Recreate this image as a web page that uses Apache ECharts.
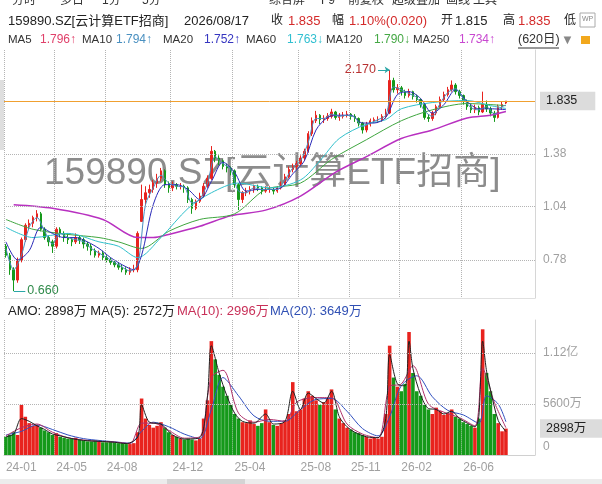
<!DOCTYPE html>
<html><head><meta charset="utf-8">
<script src="https://cdn.jsdelivr.net/npm/echarts@6/dist/echarts.min.js"></script>
<style>html,body{margin:0;padding:0;background:#fff}#c{width:602px;height:484px}</style>
</head><body><div id="c"></div>
<script>
// ---------- DATA (weekly) ----------
const categories = [
'2024-01-26','2024-02-02','2024-02-08','2024-02-23','2024-03-01',
'2024-03-08','2024-03-15','2024-03-22','2024-03-29','2024-04-03',
'2024-04-12','2024-04-19','2024-04-26','2024-05-03','2024-05-10',
'2024-05-17','2024-05-24','2024-05-31','2024-06-07','2024-06-14',
'2024-06-21','2024-06-28','2024-07-05','2024-07-12','2024-07-19',
'2024-07-26','2024-08-02','2024-08-09','2024-08-16','2024-08-23',
'2024-08-30','2024-09-06','2024-09-13','2024-09-20','2024-09-27',
'2024-10-11','2024-10-18','2024-10-25','2024-11-01','2024-11-08',
'2024-11-15','2024-11-22','2024-11-29','2024-12-06','2024-12-13',
'2024-12-20','2024-12-27','2025-01-03','2025-01-10','2025-01-17',
'2025-01-24','2025-02-07','2025-02-14','2025-02-21','2025-02-28',
'2025-03-07','2025-03-14','2025-03-21','2025-03-28','2025-04-03',
'2025-04-11','2025-04-18','2025-04-25','2025-04-30','2025-05-09',
'2025-05-16','2025-05-23','2025-05-30','2025-06-06','2025-06-13',
'2025-06-20','2025-06-27','2025-07-04','2025-07-11','2025-07-18',
'2025-07-25','2025-08-01','2025-08-08','2025-08-15','2025-08-22',
'2025-08-29','2025-09-05','2025-09-12','2025-09-19','2025-09-26',
'2025-10-10','2025-10-17','2025-10-24','2025-10-31','2025-11-07',
'2025-11-14','2025-11-21','2025-11-28','2025-12-05','2025-12-12',
'2025-12-19','2025-12-26','2025-12-31','2026-01-09','2026-01-16',
'2026-01-23','2026-01-30','2026-02-06','2026-02-13','2026-02-27',
'2026-03-06','2026-03-13','2026-03-20','2026-03-27','2026-04-03',
'2026-04-10','2026-04-17','2026-04-24','2026-04-30','2026-05-08',
'2026-05-15','2026-05-22','2026-05-29','2026-06-05','2026-06-12',
'2026-06-19','2026-06-26','2026-07-03','2026-07-10','2026-07-17',
'2026-07-24','2026-07-31','2026-08-07','2026-08-14','2026-08-17'
];
// [open, close, low, high]
const candles = [
[0.84,0.80,0.79,0.85],[0.80,0.74,0.72,0.81],[0.74,0.70,0.66,0.75],[0.70,0.78,0.69,0.79],[0.78,0.87,0.77,0.88],
[0.87,0.94,0.86,0.95],[0.94,0.95,0.92,0.97],[0.95,0.98,0.93,0.99],[0.98,1.00,0.96,1.02],[1.00,0.92,0.91,1.01],
[0.92,0.88,0.87,0.93],[0.88,0.86,0.84,0.89],[0.86,0.84,0.81,0.87],[0.84,0.92,0.83,0.93],[0.92,0.90,0.88,0.93],
[0.90,0.88,0.86,0.91],[0.88,0.87,0.85,0.90],[0.87,0.86,0.84,0.88],[0.86,0.88,0.85,0.90],[0.88,0.87,0.85,0.89],
[0.87,0.85,0.83,0.88],[0.85,0.84,0.82,0.86],[0.84,0.82,0.80,0.85],[0.82,0.80,0.79,0.83],[0.80,0.81,0.79,0.82],
[0.81,0.79,0.78,0.82],[0.79,0.78,0.77,0.80],[0.78,0.77,0.76,0.79],[0.77,0.76,0.75,0.78],[0.76,0.75,0.74,0.77],
[0.75,0.74,0.73,0.76],[0.74,0.73,0.72,0.75],[0.73,0.74,0.72,0.75],[0.74,0.74,0.73,0.76],[0.74,0.90,0.73,0.91],
[0.96,1.08,1.02,1.17],[1.08,1.12,1.05,1.16],[1.12,1.14,1.09,1.17],[1.14,1.18,1.12,1.20],[1.18,1.21,1.15,1.24],
[1.21,1.26,1.19,1.28],[1.26,1.17,1.15,1.27],[1.17,1.15,1.12,1.19],[1.15,1.17,1.13,1.19],[1.17,1.16,1.14,1.18],
[1.16,1.16,1.14,1.18],[1.16,1.15,1.12,1.17],[1.15,1.08,1.06,1.16],[1.08,1.03,1.00,1.09],[1.03,1.07,1.02,1.08],
[1.07,1.10,1.06,1.12],[1.10,1.16,1.09,1.18],[1.16,1.21,1.15,1.23],[1.21,1.40,1.20,1.44],[1.40,1.35,1.32,1.41],
[1.35,1.33,1.30,1.37],[1.33,1.29,1.27,1.34],[1.29,1.28,1.25,1.31],[1.28,1.26,1.23,1.29],[1.26,1.17,1.15,1.27],
[1.17,1.08,1.02,1.18],[1.08,1.12,1.06,1.13],[1.12,1.13,1.10,1.15],[1.13,1.14,1.11,1.16],[1.14,1.16,1.12,1.17],
[1.16,1.15,1.13,1.17],[1.15,1.13,1.11,1.16],[1.13,1.14,1.12,1.16],[1.14,1.14,1.12,1.16],[1.14,1.13,1.11,1.15],
[1.13,1.15,1.12,1.16],[1.15,1.17,1.14,1.19],[1.17,1.22,1.16,1.24],[1.22,1.27,1.21,1.29],[1.27,1.29,1.25,1.31],
[1.29,1.31,1.27,1.33],[1.31,1.35,1.30,1.37],[1.35,1.40,1.33,1.42],[1.40,1.54,1.39,1.56],[1.54,1.65,1.52,1.68],
[1.65,1.70,1.63,1.74],[1.70,1.66,1.62,1.71],[1.66,1.67,1.63,1.70],[1.67,1.69,1.65,1.72],[1.69,1.73,1.67,1.76],
[1.73,1.68,1.66,1.74],[1.68,1.69,1.65,1.72],[1.69,1.70,1.67,1.73],[1.70,1.71,1.68,1.74],[1.71,1.69,1.66,1.72],
[1.69,1.67,1.64,1.71],[1.67,1.63,1.60,1.68],[1.63,1.57,1.54,1.64],[1.57,1.62,1.55,1.64],[1.62,1.65,1.60,1.67],
[1.65,1.66,1.63,1.68],[1.66,1.66,1.63,1.69],[1.66,1.69,1.64,1.71],[1.69,1.72,1.67,1.76],[1.72,2.05,1.71,2.17],
[2.05,1.95,1.92,2.08],[1.95,1.97,1.91,2.01],[1.97,1.93,1.89,1.99],[1.93,1.89,1.86,1.95],[1.89,1.93,1.87,1.96],
[1.93,1.88,1.85,1.94],[1.88,1.85,1.82,1.90],[1.85,1.80,1.77,1.86],[1.80,1.68,1.66,1.81],[1.68,1.67,1.64,1.71],
[1.67,1.72,1.65,1.74],[1.72,1.78,1.70,1.80],[1.78,1.85,1.77,1.88],[1.85,1.90,1.83,1.93],[1.90,1.95,1.88,1.98],
[1.95,2.00,1.93,2.05],[2.00,1.93,1.90,2.02],[1.93,1.89,1.86,1.95],[1.89,1.83,1.80,1.90],[1.83,1.78,1.75,1.85],
[1.78,1.75,1.72,1.80],[1.75,1.77,1.72,1.80],[1.77,1.73,1.70,1.79],[1.73,1.80,1.72,1.93],[1.80,1.76,1.73,1.84],
[1.76,1.72,1.69,1.78],[1.72,1.68,1.64,1.74],[1.68,1.78,1.67,1.80],[1.78,1.80,1.75,1.83],[1.815,1.835,1.805,1.835]
];
// turnover (万)
const amount = [
2000,2200,2500,2200,5500, 4200,3500,3200,3300,3000, 2700,2500,2200,2400,2000,
1900,1800,1800,1900,1700, 1600,1500,1500,1600,1500, 1400,1400,1500,1400,1300,
1300,1200,1200,1300,2500, 6200,4000,3300,3000,3200, 3600,3000,2500,2200,2000,
1800,1700,1800,1700,1600, 1800,4000,6000,12500,10500, 8800,7500,6500,5500,4500,
4000,3600,3500,3800,3400, 3200,3500,5000,3600,3300, 3200,3500,3800,4500,8000,
4800,5000,6200,7000,6500, 6000,5500,5800,6200,7200, 5000,4000,3500,3000,2800,
2500,2400,2200,2000,1800, 1900,1800,2000,4500,12000, 8500,7500,7000,7800,13500,
9000,7000,6500,5500,5000, 4500,5200,4800,4400,4600, 5000,4200,4000,3600,3400,
3200,3000,4000,13800,9000, 7000,4500,3500,2600,2898
];
// moving averages read at sparse weeks: [weekIndex, value]
const ma10 = [[0,0.83],[2,0.74],[4,0.80],[6,0.93],[8,0.98],[10,0.91],[12,0.85],[14,0.90],[16,0.88],[18,0.87],[20,0.86],[22,0.83],[24,0.81],[26,0.79],[28,0.77],[30,0.75],[32,0.735],[34,0.76],[36,1.05],[38,1.15],[40,1.23],[42,1.18],[44,1.16],[46,1.155],[48,1.06],[50,1.08],[52,1.18],[54,1.36],[56,1.31],[58,1.27],[60,1.13],[62,1.12],[64,1.15],[66,1.14],[68,1.14],[70,1.14],[72,1.20],[74,1.28],[76,1.33],[78,1.47],[80,1.67],[82,1.67],[84,1.71],[86,1.69],[88,1.70],[90,1.68],[92,1.60],[94,1.63],[96,1.66],[98,1.70],[100,1.98],[102,1.95],[104,1.91],[106,1.87],[108,1.74],[110,1.69],[112,1.81],[114,1.92],[116,1.96],[118,1.86],[120,1.77],[122,1.75],[124,1.78],[126,1.71],[128,1.78],[129,1.794]];
const ma20 = [[0,0.86],[3,0.78],[6,0.82],[9,0.93],[12,0.90],[15,0.88],[18,0.88],[21,0.86],[24,0.83],[27,0.79],[30,0.76],[33,0.74],[35,0.80],[38,1.05],[41,1.17],[44,1.17],[47,1.14],[50,1.08],[53,1.19],[56,1.32],[59,1.25],[62,1.13],[65,1.14],[68,1.14],[71,1.15],[74,1.24],[77,1.33],[80,1.57],[83,1.68],[86,1.70],[89,1.70],[92,1.63],[95,1.63],[98,1.68],[101,1.90],[104,1.93],[107,1.86],[110,1.72],[113,1.80],[116,1.95],[119,1.83],[122,1.76],[125,1.76],[129,1.752]];
const ma60 = [[0,0.93],[7,0.88],[16,0.90],[24,0.86],[29,0.84],[34,0.79],[40,0.88],[47,1.03],[53,1.12],[60,1.18],[68,1.15],[76,1.20],[81,1.33],[86,1.50],[93,1.62],[98,1.66],[102,1.76],[110,1.82],[119,1.84],[125,1.79],[129,1.763]];
const ma120 = [[0,0.97],[7,0.92],[16,0.895],[24,0.88],[29,0.86],[35,0.83],[42,0.91],[50,0.97],[59,1.00],[67,1.14],[76,1.18],[84,1.34],[93,1.49],[102,1.65],[110,1.75],[119,1.81],[129,1.79]];
const ma250 = [[2,1.05],[12,1.03],[25,0.97],[34,0.88],[38,0.88],[42,0.895],[50,0.935],[58,0.99],[67,1.02],[76,1.10],[85,1.25],[93,1.36],[102,1.50],[110,1.57],[119,1.675],[125,1.70],[129,1.734]];
const volMa5 = [[0,2000],[2,2300],[4,4000],[6,3700],[8,3200],[10,2800],[12,2300],[14,2100],[17,1800],[20,1600],[24,1500],[28,1400],[31,1250],[34,2000],[35,5500],[37,3600],[40,3400],[43,2200],[46,1750],[50,1900],[52,6500],[53,12000],[55,9000],[57,6500],[59,4600],[61,3700],[64,3500],[67,4500],[69,3400],[72,3700],[74,7000],[76,5000],[78,6800],[80,6200],[82,5700],[84,7000],[86,4200],[88,3100],[90,2500],[93,2000],[96,1900],[98,4000],[99,11000],[101,7800],[103,7600],[104,12500],[105,9500],[107,6600],[109,5100],[111,5000],[113,4500],[115,4800],[117,4000],[119,3500],[121,3100],[122,4200],[123,12500],[124,9200],[125,7200],[127,3800],[129,2572]];
const volMa10 = [[0,2100],[4,3000],[8,3400],[12,2500],[16,1900],[20,1650],[24,1500],[28,1420],[32,1260],[35,3500],[38,3500],[42,2700],[46,1850],[50,2000],[53,8500],[56,9300],[60,4600],[64,3600],[68,3900],[72,3700],[75,5800],[80,6300],[84,6300],[88,3400],[92,2300],[96,1900],[99,7500],[102,7800],[105,9800],[109,5600],[113,4700],[117,4100],[121,3200],[123,9500],[126,5800],[129,2996]];
const volMa20 = [[0,2200],[4,2600],[8,3300],[12,2800],[16,2200],[20,1800],[24,1600],[28,1450],[32,1300],[35,2600],[38,3600],[42,3100],[46,2300],[50,1800],[53,5000],[56,8500],[60,6500],[64,4300],[68,3700],[72,3700],[76,5000],[80,6100],[84,6200],[88,4800],[92,2900],[96,2100],[99,4200],[102,7600],[106,8700],[110,6400],[114,4900],[118,4400],[122,3500],[124,6500],[127,5600],[129,3649]];
const priceTicks = ['0.78','1.04','1.38'];
const lastPrice = 1.835;
const lastAmount = 2898;
const highMark = [99, 2.170];
const lowMark = [2, 0.660];
const xTickLabels = ['24-01','24-05','24-08','24-12','25-04','25-08','25-11','26-02','26-06'];
const topRowTexts = ['分时','多日','1分','5分','综合屏','F9','前复权','超级叠加','画线','工具'];
const infoTexts = ['159890.SZ[云计算ETF招商]','2026/08/17','收','1.835','幅','1.10%(0.020)','开','1.815','高','1.835','低'];
const maNames = ['MA5','MA10','MA20','MA60','MA120','MA250'];
const maValues = ['1.796↑','1.794↑','1.752↑','1.763↓','1.790↓','1.734↑'];
const volLegend = ['AMO: 2898万 MA(5): 2572万','MA(10): 2996万','MA(20): 3649万'];
const watermark = '159890.SZ[云计算ETF招商]';

// ---------- LAYOUT / STYLE ----------
const FONT = '"Liberation Sans","Noto Sans CJK SC",sans-serif';
const UP = '#e8231e', DOWN = '#15991a';
const GRIDC = '#b4b4b4';
const xData = categories.concat(new Array(7).fill(''));
const ym = v => v ? v.slice(2,7) : '';
function isTick(i){
  const v = xData[i]; if(!v) return false;
  const m = ym(v); if(xTickLabels.indexOf(m) < 0) return false;
  return i === 0 || ym(xData[i-1]) !== m;
}
const chart = echarts.init(document.getElementById('c'), null, {renderer:'canvas', width:602, height:484});

const topRowX = [12,60,102,142,269,321,348,392,446,473];
const infoX = [8,184,271,288,332,349,441,455,503,518,564];
const infoS = [13,13,12,13,12,13,12,13,12,13,12];
const infoC = ['#222','#222','#222','#d42a2a','#222','#d42a2a','#222','#222','#222','#d42a2a','#222'];
const maNameX = [8,82,163,246,326,413];
const maValX = [40,116,204,287,374,459];
const maColors = ['#e0406a','#4a90c0','#3535c0','#30bfd0','#45a845','#c848d0'];
const volLegX = [8,177,270];
const volLegC = ['#222','#c83058','#3050b4'];

function T(x,y,text,fill,size,extra){
  return Object.assign({type:'text', x:x, y:y, z:100, silent:true,
    style:{text:text, fill:fill, font:(size||13)+'px '+FONT, verticalAlign:'middle', align:'left'}}, extra||{});
}
const graphics = [];
topRowTexts.forEach((t,i)=>graphics.push(T(topRowX[i],1,t,'#333',12)));
infoTexts.forEach((t,i)=>graphics.push(T(infoX[i],21,t,infoC[i],infoS[i])));
maNames.forEach((t,i)=>{graphics.push(T(maNameX[i],40,t,'#333',11.5));graphics.push(T(maValX[i],40,maValues[i],maColors[i],12));});
graphics.push(T(518,40,'(620日)','#333',12.5));
graphics.push({type:'line', z:100, silent:true, shape:{x1:518,y1:48,x2:559,y2:48}, style:{stroke:'#333',lineWidth:1}});
graphics.push(T(561,40,'▼','#888',13));
graphics.push({type:'rect', z:100, silent:true, shape:{x:581,y:36,width:9,height:8}, style:{fill:'#f2a81d'}});
graphics.push({type:'rect', z:100, silent:true, shape:{x:580,y:13,width:15,height:14}, style:{fill:'#fff',stroke:'#aaa',lineWidth:1}});
graphics.push(T(582,19,'WP','#888',7));
volLegend.forEach((t,i)=>graphics.push(T(volLegX[i],311,t,volLegC[i],13)));
graphics.push({type:'rect', z:0, silent:true, shape:{x:0,y:80,width:4,height:70}, style:{fill:'#dedede'}});
graphics.push({type:'rect', z:0, silent:true, shape:{x:0,y:479,width:602,height:5}, style:{fill:'#ececec'}});
graphics.push({type:'rect', z:0, silent:true, shape:{x:167,y:479,width:78,height:5}, style:{fill:'#d4d4d4'}});
graphics.push({type:'text', x:44, y:174, z:0, silent:true,
  style:{text:watermark, fill:'rgba(120,120,120,0.85)', font:'37px '+FONT, verticalAlign:'middle'}});

const boxLabel = (txt)=>({show:true, position:'end', formatter:txt, backgroundColor:'#dcdcdc', color:'#222',
  padding:[3,18,3,6], fontSize:12.5, fontFamily:FONT, distance:5});
const lineOf = (data, color, w, xi, yi)=>({type:'line', data:data, xAxisIndex:xi, yAxisIndex:yi, smooth:0.3,
  showSymbol:false, symbol:'none', silent:true, lineStyle:{color:color, width:w}, z:3});

const option = {
  animation:false,
  backgroundColor:'#fff',
  textStyle:{fontFamily:FONT},
  grid:[
    {left:4, right:67, top:50, bottom:186, outerBoundsMode:'none'},
    {left:4, right:67, top:320, bottom:29, outerBoundsMode:'none'}
  ],
  xAxis:[
    {type:'category', gridIndex:0, data:xData, boundaryGap:true,
     axisLabel:{show:false}, axisTick:{show:false},
     axisLine:{show:true, lineStyle:{color:'#e0e0e0'}},
     splitLine:{show:true, interval:(i)=>isTick(i), lineStyle:{type:'dotted', color:GRIDC}}},
    {type:'category', gridIndex:1, data:xData, boundaryGap:true,
     axisLabel:{show:true, interval:(i)=>isTick(i), formatter:ym, align:'left', color:'#a0a0a0', fontSize:12, margin:7},
     axisTick:{show:false},
     axisLine:{show:true, lineStyle:{color:'#d0d0d0'}},
     splitLine:{show:true, interval:(i)=>isTick(i), lineStyle:{type:'dotted', color:GRIDC}}}
  ],
  yAxis:[
    {type:'log', logBase:10, gridIndex:0, position:'right', min:0.6356, max:2.415,
     axisLabel:{show:false}, axisTick:{show:false}, splitLine:{show:false},
     axisLine:{show:true, lineStyle:{color:'#d6d6d6'}}},
    {type:'value', gridIndex:1, position:'right', min:0, max:14820, interval:5600,
     axisLabel:{show:true, showMaxLabel:false, color:'#a0a0a0', fontSize:12, margin:8, align:'left',
       formatter:(v)=> v===0 ? '{z|0}' : (v>=10000 ? (v/10000)+'亿' : v+'万'),
       rich:{z:{padding:[0,0,17,0], color:'#a0a0a0', fontSize:12}}},
     axisTick:{show:false}, splitLine:{show:false},
     axisLine:{show:true, lineStyle:{color:'#d6d6d6'}}}
  ],
  graphic: graphics,
  series:[
    {type:'candlestick', xAxisIndex:0, yAxisIndex:0, data:candles, barMaxWidth:3, z:2,
     itemStyle:{color:UP, color0:DOWN, borderColor:UP, borderColor0:DOWN, borderWidth:1},
     markLine:{silent:true, symbol:['none','none'], animation:false, precision:3,
       data:[].concat(
         priceTicks.map(t=>({yAxis:parseFloat(t),
           lineStyle:{type:'dotted', color:GRIDC, width:1},
           label:{show:true, position:'end', formatter:t, color:'#a0a0a0', fontSize:12, distance:8}})),
         [{yAxis:lastPrice, lineStyle:{type:'solid', color:'#f0a030', width:1}, label:boxLabel(lastPrice.toFixed(3))}],
         [[{coord:[highMark[0]-3, highMark[1]], symbol:'none',
            lineStyle:{type:'solid', color:'#2aa7a7', width:1},
            label:{show:true, position:'start', formatter:highMark[1].toFixed(3), color:'#b83232', fontSize:12.5, distance:2}},
           {coord:[highMark[0], highMark[1]], symbol:'arrow', symbolSize:5}]],
         [[{coord:[lowMark[0], lowMark[1]], symbol:'none',
            lineStyle:{type:'solid', color:'#2aa7a7', width:1},
            label:{show:true, position:'end', formatter:lowMark[1].toFixed(3), color:'#2f8a4a', fontSize:12.5, distance:2}},
           {coord:[lowMark[0]+3, lowMark[1]], symbol:'none'}]]
       )}},
    lineOf(ma250,'#b830c0',1.5,0,0),
    lineOf(ma120,'#3fa63f',1,0,0),
    lineOf(ma60,'#30c0cc',1,0,0),
    lineOf(ma20,'#2a2ab8',1,0,0),
    lineOf(ma10,'#4a8cc0',1,0,0),
    {type:'bar', xAxisIndex:1, yAxisIndex:1, barCategoryGap:'8%', z:2,
     data: amount.map((v,i)=>({value:v, itemStyle:{color: candles[i][1] >= candles[i][0] ? UP : DOWN}})),
     markLine:{silent:true, symbol:['none','none'], animation:false,
       data:[
         {yAxis:5600, lineStyle:{type:'dotted', color:GRIDC, width:1}, label:{show:false}},
         {yAxis:11200, lineStyle:{type:'dotted', color:GRIDC, width:1}, label:{show:false}},
         {yAxis:lastAmount, lineStyle:{color:'rgba(0,0,0,0)', width:0}, label:boxLabel(lastAmount+'万')}
       ]}},
    lineOf(volMa20,'#3050c0',1,1,1),
    lineOf(volMa10,'#b0306a',1,1,1),
    lineOf(volMa5,'#202020',1,1,1)
  ]
};
chart.setOption(option);
</script>
</body></html>
